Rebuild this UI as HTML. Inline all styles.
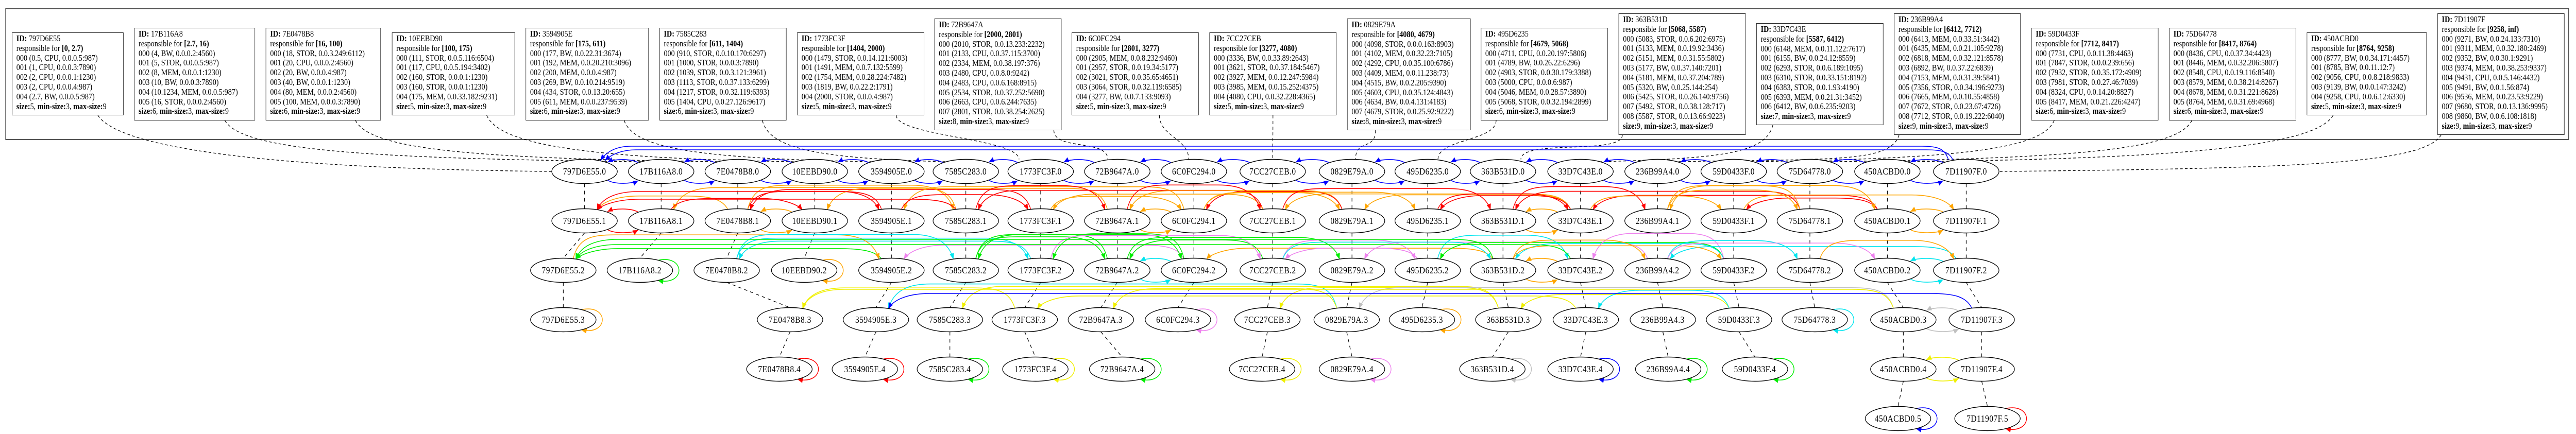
<!DOCTYPE html>
<html><head><meta charset="utf-8">
<style>
html,body{margin:0;padding:0;background:#fff;overflow:hidden;}
#wrap{position:absolute;left:0;top:0;width:5817px;height:843px;overflow:hidden;background:#fff;transform-origin:0 0;}
#cl{position:absolute;left:12px;top:16px;width:5789px;height:256px;border:2px solid #555;box-sizing:border-box;}
.b{position:absolute;border:1.4px solid #222;box-sizing:border-box;background:#fff;padding:2px 0 0 9px;font-family:"Liberation Serif",serif;font-size:16.5px;letter-spacing:0;line-height:18.8px;white-space:nowrap;color:#000;overflow:hidden;}
.b b{font-weight:bold;}
svg{position:absolute;left:0;top:0;}
svg text{font-family:"Liberation Serif",serif;font-size:18px;letter-spacing:0.6px;text-anchor:middle;fill:#000;}
</style></head><body><div id="wrap">
<div id="cl"></div>
<div class="b" style="left:27px;top:63px;width:252px;height:161px"><b>ID:</b> 797D6E55<br>responsible for <b>[0, 2.7)</b><br>000 (0.5, CPU, 0.0.0.5:987)<br>001 (1, CPU, 0.0.0.3:7890)<br>002 (2, CPU, 0.0.0.1:1230)<br>003 (2, CPU, 0.0.0.4:987)<br>004 (2.7, BW, 0.0.0.5:987)<br><b>size:</b>5, <b>min-size:</b>3, <b>max-size:</b>9</div>
<div class="b" style="left:303px;top:54px;width:273px;height:180px"><b>ID:</b> 17B116A8<br>responsible for <b>[2.7, 16)</b><br>000 (4, BW, 0.0.0.2:4560)<br>001 (5, STOR, 0.0.0.5:987)<br>002 (8, MEM, 0.0.0.1:1230)<br>003 (10, BW, 0.0.0.3:7890)<br>004 (10.1234, MEM, 0.0.0.5:987)<br>005 (16, STOR, 0.0.0.2:4560)<br><b>size:</b>6, <b>min-size:</b>3, <b>max-size:</b>9</div>
<div class="b" style="left:600px;top:54px;width:260px;height:180px"><b>ID:</b> 7E0478B8<br>responsible for <b>[16, 100)</b><br>000 (18, STOR, 0.0.3.249:6112)<br>001 (20, CPU, 0.0.0.2:4560)<br>002 (20, BW, 0.0.0.4:987)<br>003 (40, BW, 0.0.0.1:1230)<br>004 (80, MEM, 0.0.0.2:4560)<br>005 (100, MEM, 0.0.0.3:7890)<br><b>size:</b>6, <b>min-size:</b>3, <b>max-size:</b>9</div>
<div class="b" style="left:885px;top:63px;width:278px;height:161px"><b>ID:</b> 10EEBD90<br>responsible for <b>[100, 175)</b><br>000 (111, STOR, 0.0.5.116:6504)<br>001 (117, CPU, 0.0.5.194:3402)<br>002 (160, STOR, 0.0.0.1:1230)<br>003 (160, STOR, 0.0.0.1:1230)<br>004 (175, MEM, 0.0.33.182:9231)<br><b>size:</b>5, <b>min-size:</b>3, <b>max-size:</b>9</div>
<div class="b" style="left:1187px;top:54px;width:278px;height:180px"><b>ID:</b> 3594905E<br>responsible for <b>[175, 611)</b><br>000 (177, BW, 0.0.22.31:3674)<br>001 (192, MEM, 0.0.20.210:3096)<br>002 (200, MEM, 0.0.0.4:987)<br>003 (269, BW, 0.0.10.214:9519)<br>004 (434, STOR, 0.0.13.20:655)<br>005 (611, MEM, 0.0.0.237:9539)<br><b>size:</b>6, <b>min-size:</b>3, <b>max-size:</b>9</div>
<div class="b" style="left:1489px;top:54px;width:287px;height:180px"><b>ID:</b> 7585C283<br>responsible for <b>[611, 1404)</b><br>000 (910, STOR, 0.0.10.170:6297)<br>001 (1000, STOR, 0.0.0.3:7890)<br>002 (1039, STOR, 0.0.3.121:3961)<br>003 (1113, STOR, 0.0.37.133:6299)<br>004 (1217, STOR, 0.0.32.119:6393)<br>005 (1404, CPU, 0.0.27.126:9617)<br><b>size:</b>6, <b>min-size:</b>3, <b>max-size:</b>9</div>
<div class="b" style="left:1800px;top:63px;width:287px;height:161px"><b>ID:</b> 1773FC3F<br>responsible for <b>[1404, 2000)</b><br>000 (1479, STOR, 0.0.14.121:6003)<br>001 (1491, MEM, 0.0.7.132:5599)<br>002 (1754, MEM, 0.0.28.224:7482)<br>003 (1819, BW, 0.0.22.2:1791)<br>004 (2000, STOR, 0.0.0.4:987)<br><b>size:</b>5, <b>min-size:</b>3, <b>max-size:</b>9</div>
<div class="b" style="left:2110px;top:36px;width:287px;height:217px"><b>ID:</b> 72B9647A<br>responsible for <b>[2000, 2801)</b><br>000 (2010, STOR, 0.0.13.233:2232)<br>001 (2133, CPU, 0.0.37.115:3700)<br>002 (2334, MEM, 0.0.38.197:376)<br>003 (2480, CPU, 0.0.8.0:9242)<br>004 (2483, CPU, 0.0.6.168:8915)<br>005 (2534, STOR, 0.0.37.252:5690)<br>006 (2663, CPU, 0.0.6.244:7635)<br>007 (2801, STOR, 0.0.38.254:2625)<br><b>size:</b>8, <b>min-size:</b>3, <b>max-size:</b>9</div>
<div class="b" style="left:2420px;top:63px;width:287px;height:161px"><b>ID:</b> 6C0FC294<br>responsible for <b>[2801, 3277)</b><br>000 (2905, MEM, 0.0.8.232:9460)<br>001 (2957, STOR, 0.0.19.34:5177)<br>002 (3021, STOR, 0.0.35.65:4651)<br>003 (3064, STOR, 0.0.32.119:6585)<br>004 (3277, BW, 0.0.7.133:9093)<br><b>size:</b>5, <b>min-size:</b>3, <b>max-size:</b>9</div>
<div class="b" style="left:2731px;top:63px;width:287px;height:161px"><b>ID:</b> 7CC27CEB<br>responsible for <b>[3277, 4080)</b><br>000 (3336, BW, 0.0.33.89:2643)<br>001 (3621, STOR, 0.0.37.184:5467)<br>002 (3927, MEM, 0.0.12.247:5984)<br>003 (3985, MEM, 0.0.15.252:4375)<br>004 (4080, CPU, 0.0.32.228:4365)<br><b>size:</b>5, <b>min-size:</b>3, <b>max-size:</b>9</div>
<div class="b" style="left:3042px;top:36px;width:279px;height:217px"><b>ID:</b> 0829E79A<br>responsible for <b>[4080, 4679)</b><br>000 (4098, STOR, 0.0.0.163:8903)<br>001 (4102, MEM, 0.0.32.23:7105)<br>002 (4292, CPU, 0.0.35.100:6786)<br>003 (4409, MEM, 0.0.11.238:73)<br>004 (4515, BW, 0.0.2.205:9390)<br>005 (4603, CPU, 0.0.35.124:4843)<br>006 (4634, BW, 0.0.4.131:4183)<br>007 (4679, STOR, 0.0.25.92:9222)<br><b>size:</b>8, <b>min-size:</b>3, <b>max-size:</b>9</div>
<div class="b" style="left:3344px;top:54px;width:287px;height:180px"><b>ID:</b> 495D6235<br>responsible for <b>[4679, 5068)</b><br>000 (4711, CPU, 0.0.20.197:5806)<br>001 (4789, BW, 0.0.26.22:6296)<br>002 (4903, STOR, 0.0.30.179:3388)<br>003 (5000, CPU, 0.0.0.6:987)<br>004 (5046, MEM, 0.0.28.57:3890)<br>005 (5068, STOR, 0.0.32.194:2899)<br><b>size:</b>6, <b>min-size:</b>3, <b>max-size:</b>9</div>
<div class="b" style="left:3655px;top:26px;width:287px;height:236px"><b>ID:</b> 363B531D<br>responsible for <b>[5068, 5587)</b><br>000 (5083, STOR, 0.0.6.202:6975)<br>001 (5133, MEM, 0.0.19.92:3436)<br>002 (5151, MEM, 0.0.31.55:5802)<br>003 (5177, BW, 0.0.37.140:7201)<br>004 (5181, MEM, 0.0.37.204:789)<br>005 (5320, BW, 0.0.25.144:254)<br>006 (5425, STOR, 0.0.26.140:9756)<br>007 (5492, STOR, 0.0.38.128:717)<br>008 (5587, STOR, 0.0.13.66:9223)<br><b>size:</b>9, <b>min-size:</b>3, <b>max-size:</b>9</div>
<div class="b" style="left:3966px;top:45px;width:287px;height:198px"><b>ID:</b> 33D7C43E<br>responsible for <b>[5587, 6412)</b><br>000 (6148, MEM, 0.0.11.122:7617)<br>001 (6155, BW, 0.0.24.12:8559)<br>002 (6293, STOR, 0.0.6.189:1095)<br>003 (6310, STOR, 0.0.33.151:8192)<br>004 (6383, STOR, 0.0.1.93:4190)<br>005 (6393, MEM, 0.0.21.31:3452)<br>006 (6412, BW, 0.0.6.235:9203)<br><b>size:</b>7, <b>min-size:</b>3, <b>max-size:</b>9</div>
<div class="b" style="left:4277px;top:26px;width:286px;height:236px"><b>ID:</b> 236B99A4<br>responsible for <b>[6412, 7712)</b><br>000 (6413, MEM, 0.0.33.51:3442)<br>001 (6435, MEM, 0.0.21.105:9278)<br>002 (6818, MEM, 0.0.32.121:8578)<br>003 (6892, BW, 0.0.37.22:6839)<br>004 (7153, MEM, 0.0.31.39:5841)<br>005 (7356, STOR, 0.0.34.196:9273)<br>006 (7665, MEM, 0.0.10.55:4858)<br>007 (7672, STOR, 0.0.23.67:4726)<br>008 (7712, STOR, 0.0.19.222:6040)<br><b>size:</b>9, <b>min-size:</b>3, <b>max-size:</b>9</div>
<div class="b" style="left:4587px;top:54px;width:287px;height:180px"><b>ID:</b> 59D0433F<br>responsible for <b>[7712, 8417)</b><br>000 (7731, CPU, 0.0.11.38:4463)<br>001 (7847, STOR, 0.0.0.239:656)<br>002 (7932, STOR, 0.0.35.172:4909)<br>003 (7981, STOR, 0.0.27.46:7039)<br>004 (8324, CPU, 0.0.14.20:8827)<br>005 (8417, MEM, 0.0.21.226:4247)<br><b>size:</b>6, <b>min-size:</b>3, <b>max-size:</b>9</div>
<div class="b" style="left:4898px;top:54px;width:287px;height:180px"><b>ID:</b> 75D64778<br>responsible for <b>[8417, 8764)</b><br>000 (8436, CPU, 0.0.37.34:4423)<br>001 (8446, MEM, 0.0.32.206:5807)<br>002 (8548, CPU, 0.0.19.116:8540)<br>003 (8579, MEM, 0.0.38.214:8267)<br>004 (8678, MEM, 0.0.31.221:8628)<br>005 (8764, MEM, 0.0.31.69:4968)<br><b>size:</b>6, <b>min-size:</b>3, <b>max-size:</b>9</div>
<div class="b" style="left:5209px;top:63px;width:271px;height:161px"><b>ID:</b> 450ACBD0<br>responsible for <b>[8764, 9258)</b><br>000 (8777, BW, 0.0.34.171:4457)<br>001 (8785, BW, 0.0.11.12:7)<br>002 (9056, CPU, 0.0.8.218:9833)<br>003 (9139, BW, 0.0.0.147:3242)<br>004 (9258, CPU, 0.0.6.12:6330)<br><b>size:</b>5, <b>min-size:</b>3, <b>max-size:</b>9</div>
<div class="b" style="left:5504px;top:26px;width:287px;height:236px"><b>ID:</b> 7D11907F<br>responsible for <b>[9258, inf)</b><br>000 (9271, BW, 0.0.24.133:7310)<br>001 (9311, MEM, 0.0.32.180:2469)<br>002 (9352, BW, 0.0.30.1:9291)<br>003 (9374, MEM, 0.0.38.253:9337)<br>004 (9431, CPU, 0.0.5.146:4432)<br>005 (9491, BW, 0.0.1.56:874)<br>006 (9536, MEM, 0.0.23.53:9229)<br>007 (9680, STOR, 0.0.13.136:9995)<br>008 (9860, BW, 0.0.6.108:1818)<br><b>size:</b>9, <b>min-size:</b>3, <b>max-size:</b>9</div>

<svg id="s" width="5817" height="843" viewBox="0 0 5817 843" xmlns="http://www.w3.org/2000/svg">
<g id="edges"></g><g id="ells"></g>
<g id="labels">
<text x="1320" y="339">797D6E55.0</text><text x="1320" y="435">797D6E55.1</text><text x="1272" y="531">797D6E55.2</text><text x="1272" y="627">797D6E55.3</text>
<text x="1493" y="339">17B116A8.0</text><text x="1493" y="435">17B116A8.1</text><text x="1445" y="531">17B116A8.2</text>
<text x="1666" y="339">7E0478B8.0</text><text x="1666" y="435">7E0478B8.1</text><text x="1641" y="531">7E0478B8.2</text><text x="1784" y="627">7E0478B8.3</text><text x="1760" y="723">7E0478B8.4</text>
<text x="1840" y="339">10EEBD90.0</text><text x="1840" y="435">10EEBD90.1</text><text x="1816" y="531">10EEBD90.2</text>
<text x="2013" y="339">3594905E.0</text><text x="2013" y="435">3594905E.1</text><text x="2013" y="531">3594905E.2</text><text x="1978" y="627">3594905E.3</text><text x="1953" y="723">3594905E.4</text>
<text x="2181" y="339">7585C283.0</text><text x="2181" y="435">7585C283.1</text><text x="2181" y="531">7585C283.2</text><text x="2145" y="627">7585C283.3</text><text x="2145" y="723">7585C283.4</text>
<text x="2350" y="339">1773FC3F.0</text><text x="2350" y="435">1773FC3F.1</text><text x="2350" y="531">1773FC3F.2</text><text x="2314" y="627">1773FC3F.3</text><text x="2338" y="723">1773FC3F.4</text>
<text x="2523" y="339">72B9647A.0</text><text x="2523" y="435">72B9647A.1</text><text x="2523" y="531">72B9647A.2</text><text x="2486" y="627">72B9647A.3</text><text x="2534" y="723">72B9647A.4</text>
<text x="2696" y="339">6C0FC294.0</text><text x="2696" y="435">6C0FC294.1</text><text x="2696" y="531">6C0FC294.2</text><text x="2660" y="627">6C0FC294.3</text>
<text x="2874" y="339">7CC27CEB.0</text><text x="2874" y="435">7CC27CEB.1</text><text x="2874" y="531">7CC27CEB.2</text><text x="2862" y="627">7CC27CEB.3</text><text x="2850" y="723">7CC27CEB.4</text>
<text x="3053" y="339">0829E79A.0</text><text x="3053" y="435">0829E79A.1</text><text x="3053" y="531">0829E79A.2</text><text x="3041" y="627">0829E79A.3</text><text x="3053" y="723">0829E79A.4</text>
<text x="3224" y="339">495D6235.0</text><text x="3224" y="435">495D6235.1</text><text x="3224" y="531">495D6235.2</text><text x="3211" y="627">495D6235.3</text>
<text x="3394" y="339">363B531D.0</text><text x="3394" y="435">363B531D.1</text><text x="3394" y="531">363B531D.2</text><text x="3406" y="627">363B531D.3</text><text x="3370" y="723">363B531D.4</text>
<text x="3569" y="339">33D7C43E.0</text><text x="3569" y="435">33D7C43E.1</text><text x="3569" y="531">33D7C43E.2</text><text x="3581" y="627">33D7C43E.3</text><text x="3569" y="723">33D7C43E.4</text>
<text x="3743" y="339">236B99A4.0</text><text x="3743" y="435">236B99A4.1</text><text x="3743" y="531">236B99A4.2</text><text x="3755" y="627">236B99A4.3</text><text x="3767" y="723">236B99A4.4</text>
<text x="3915" y="339">59D0433F.0</text><text x="3915" y="435">59D0433F.1</text><text x="3915" y="531">59D0433F.2</text><text x="3927" y="627">59D0433F.3</text><text x="3963" y="723">59D0433F.4</text>
<text x="4087" y="339">75D64778.0</text><text x="4087" y="435">75D64778.1</text><text x="4087" y="531">75D64778.2</text><text x="4098" y="627">75D64778.3</text>
<text x="4262" y="339">450ACBD0.0</text><text x="4262" y="435">450ACBD0.1</text><text x="4262" y="531">450ACBD0.2</text><text x="4298" y="627">450ACBD0.3</text><text x="4298" y="723">450ACBD0.4</text><text x="4286" y="819">450ACBD0.5</text>
<text x="4440" y="339">7D11907F.0</text><text x="4440" y="435">7D11907F.1</text><text x="4440" y="531">7D11907F.2</text><text x="4475" y="627">7D11907F.3</text><text x="4475" y="723">7D11907F.4</text><text x="4488" y="819">7D11907F.5</text>
</g></svg>
</div>
<script>
(function(){
var W=document.getElementById('wrap');
function fit(){var w=window.innerWidth||5817,h=window.innerHeight||843;var sx=w/5817,sy=h/843;if(Math.abs(sx-1)<0.002&&Math.abs(sy-1)<0.002){W.style.transform='';}else{W.style.transform='scale('+sx+','+sy+')';}}
fit();window.addEventListener('resize',fit);
var NS="http://www.w3.org/2000/svg",svg=document.getElementById('s'),E=document.getElementById('edges'),L=document.getElementById('ells');
var RX=74,RY=23.5,ROWS=[333,429,525,621,717,813];
var C={blue:"#0000ff",red:"#ff0000",orange:"#ffa500",green:"#00ee00",cyan:"#00e5ee",violet:"#ee82ee",yellow:"#f0f000",gray:"#c0c0c0"};
var defs=document.createElementNS(NS,'defs');svg.insertBefore(defs,svg.firstChild);
for(var k in C){var m=document.createElementNS(NS,'marker');m.setAttribute('id','m'+k);m.setAttribute('markerUnits','userSpaceOnUse');m.setAttribute('markerWidth','14');m.setAttribute('markerHeight','12');m.setAttribute('refX','12');m.setAttribute('refY','5');m.setAttribute('orient','auto');var p=document.createElementNS(NS,'path');p.setAttribute('d','M0,0 L12,5 L0,10 z');p.setAttribute('fill',C[k]);m.appendChild(p);defs.appendChild(m);}
function path(d,col,arrow,dash){var p=document.createElementNS(NS,'path');p.setAttribute('d',d);p.setAttribute('fill','none');p.setAttribute('stroke',col in C?C[col]:col);p.setAttribute('stroke-width',dash?'1.3':'1.6');if(dash)p.setAttribute('stroke-dasharray',dash);if(arrow)p.setAttribute('marker-end','url(#m'+col+')');E.appendChild(p);}
var N={},order=[];
var ts=document.querySelectorAll('#labels text');
for(var i=0;i<ts.length;i++){var t=ts[i].textContent.split('.'),x=+ts[i].getAttribute('x'),r=+t[1];if(!N[t[0]]){N[t[0]]=[];order.push(t[0]);}N[t[0]][r]=x;
var e=document.createElementNS(NS,'ellipse');e.setAttribute('cx',x);e.setAttribute('cy',ROWS[r]);e.setAttribute('rx',RX);e.setAttribute('ry',RY);e.setAttribute('fill','#fff');e.setAttribute('stroke','#000');e.setAttribute('stroke-width','1.4');L.appendChild(e);}
order.forEach(function(id){var a=N[id];for(var r=0;r<a.length-1;r++){path('M'+a[r]+','+(ROWS[r]+RY)+' L'+a[r+1]+','+(ROWS[r+1]-RY),'#000',false,'7,7');}});
var B=[[27,252,224,.77],[303,273,234,.75],[600,260,234,.78],[885,278,224,.77],[1187,278,234,.8],[1489,287,234,.81],[1800,287,224,.78],[2110,287,253,.94],[2420,287,224,.69],[2731,287,224,.5],[3042,279,253,.23],[3344,287,234,.12],[3655,287,262,.03],[3966,287,243,.13],[4277,286,262,.04],[4587,287,234,.18],[4898,287,234,.18],[5209,271,224,.22],[5504,287,262,.03]];
B.forEach(function(b,i){var id=order[i],nx=N[id][0],sx=b[0]+b[1]*b[3],sy=b[2],ex,ey,d;
 if(i==0){ex=nx-RX;ey=333;}else if(i==18){ex=nx+RX;ey=333;}
 else if(nx-sx>350){ex=nx-45;ey=314;}else if(sx-nx>350){ex=nx+45;ey=314;}else{ex=nx+(sx-nx)*0.15;ey=ROWS[0]-RY;}
 if(Math.abs(ex-sx)>350){d='M'+sx+','+sy+' C'+(sx+(ex-sx)*0.04)+','+(sy+55)+' '+(sx+(ex-sx)*0.3)+','+(ey-6)+' '+ex+','+ey;}
 else d='M'+sx+','+sy+' C'+sx+','+(sy+40)+' '+ex+','+(ey-40)+' '+ex+','+ey;
 path(d,'#000',false,'6,5');});
function pair(a,b,r,col){var y=ROWS[r],x1=N[a][r],x2=N[b][r];
 var p1x=x2-RX*0.7,p1y=y-RY*0.72,p2x=x1+RX*0.7;
 path('M'+p1x+','+p1y+' C'+(p1x-15)+','+(p1y-8)+' '+(p2x+15)+','+(p1y-8)+' '+p2x+','+(p1y-1),col,true);
 path('M'+p2x+','+(y+RY*0.72)+' C'+(p2x+15)+','+(y+RY*0.72+8)+' '+(p1x-15)+','+(y+RY*0.72+8)+' '+p1x+','+(y+RY*0.72+1),col,true);}
for(var i=0;i<order.length-1;i++)pair(order[i],order[i+1],0,'blue');
[284,291].forEach(function(yb,k){var sx=4400+k*10,ex=1356+k*10;path('M'+sx+',311 C'+(sx-8)+','+(yb+4)+' '+(sx-25)+','+yb+' '+(sx-60)+','+yb+' L'+(ex+70)+','+yb+' C'+(ex+40)+','+yb+' '+(ex+15)+','+(yb+8)+' '+ex+','+(312),'blue',true);});
pair('797D6E55','17B116A8',1,'red');pair('7E0478B8','10EEBD90',1,'orange');pair('72B9647A','6C0FC294',1,'orange');pair('363B531D','33D7C43E',1,'orange');pair('450ACBD0','7D11907F',1,'orange');
pair('72B9647A','6C0FC294',2,'cyan');pair('363B531D','33D7C43E',2,'orange');pair('450ACBD0','7D11907F',2,'cyan');
pair('450ACBD0','7D11907F',3,'gray');pair('450ACBD0','7D11907F',4,'yellow');
[['17B116A8',2,'green'],['10EEBD90',2,'orange'],['797D6E55',3,'orange'],['7E0478B8',4,'red'],['3594905E',4,'red'],['7585C283',4,'green'],['1773FC3F',4,'yellow'],['72B9647A',4,'green'],['6C0FC294',3,'violet'],['7CC27CEB',4,'yellow'],['0829E79A',4,'violet'],['495D6235',3,'orange'],['363B531D',4,'gray'],['33D7C43E',4,'blue'],['236B99A4',4,'green'],['59D0433F',4,'green'],['75D64778',3,'cyan'],['450ACBD0',5,'blue'],['7D11907F',5,'red']].forEach(function(l){
 var x=N[l[0]][l[1]],y=ROWS[l[1]];path('M'+(x+RX*0.55)+','+(y-RY*0.82)+' C'+(x+RX+30)+','+(y-RY-8)+' '+(x+RX+30)+','+(y+RY+8)+' '+(x+RX*0.55)+','+(y+RY*0.84),l[2],true);});
var seed=7;function rnd(){seed=(seed*16807)%2147483647;return seed/2147483647;}
function arc(x1,x2,y,band,col){var d=x2>x1?1:-1,sx=x1+d*22,sy=y-RY+2,ex=x2-d*28,ey=y-RY+2.5;
 if(Math.abs(x2-x1)<260){path('M'+sx+','+sy+' C'+(sx+d*30)+','+band+' '+(ex-d*30)+','+band+' '+ex+','+ey,col,true);return;}
 path('M'+sx+','+sy+' C'+(sx+d*12)+','+(band+6)+' '+(sx+d*40)+','+band+' '+(sx+d*95)+','+band+' L'+(ex-d*95)+','+band+' C'+(ex-d*50)+','+band+' '+(ex-d*12)+','+(band+10)+' '+ex+','+ey,col,true);}
var P={1:['red','orange','red','orange'],2:['green','orange','cyan','violet'],3:['yellow','gray','blue','cyan']};
var EX={2:['17B116A8','10EEBD90'],3:['797D6E55','6C0FC294','495D6235','75D64778']};
[1,2,3].forEach(function(r){var ids=order.filter(function(id){return N[id][r]!==undefined&&!(EX[r]&&EX[r].indexOf(id)>=0);});
 ids.forEach(function(id,i){var offs=[2+Math.floor(rnd()*3),-(2+Math.floor(rnd()*2))];
  if(r==3)offs=[2+Math.floor(rnd()*4)];
  offs.forEach(function(o){var j=i+o;if(j<0||j>=ids.length)return;var col=P[r][Math.floor(rnd()*4)];
   var band=ROWS[r]-42-rnd()*30;arc(N[ids[j]][r],N[id][r],ROWS[r],band,col);});});
});
arc(N['3594905E'][1],N['797D6E55'][1],ROWS[1],372,'red');arc(N['7585C283'][1],N['797D6E55'][1],ROWS[1],387,'red');
arc(N['363B531D'][2],N['797D6E55'][2],ROWS[2],465,'green');arc(N['33D7C43E'][2],N['797D6E55'][2],ROWS[2],475,'green');
arc(N['450ACBD0'][3],N['7E0478B8'][3],ROWS[3],562,'yellow');arc(N['7D11907F'][3],N['3594905E'][3],ROWS[3],570,'blue');
})();
</script>
</body></html>
